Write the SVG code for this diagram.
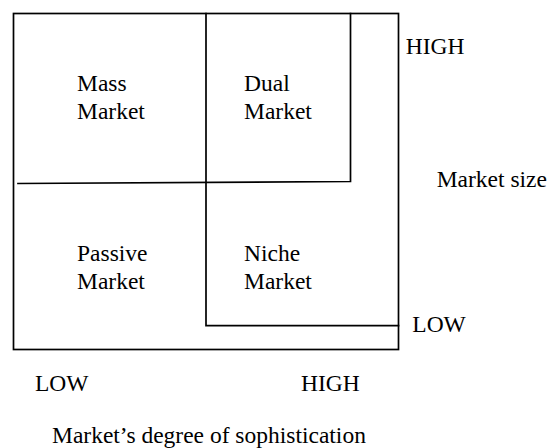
<svg xmlns="http://www.w3.org/2000/svg" width="549" height="448" viewBox="0 0 549 448">
<style>
.ln{fill:none;stroke:#000;stroke-width:1.7;stroke-linecap:square}
.t{font-family:'Liberation Serif','Times New Roman','DejaVu Serif',serif;font-size:23.5px;fill:#000}
</style>
<rect width="549" height="448" fill="#fff"/>
<g id="connectors">
<rect class="ln" x="13.5" y="13.5" width="385" height="336"/>
<polyline class="ln" points="206,13.5 206,325.7 398.5,325.7"/>
<polyline class="ln" points="350.5,13.5 350.5,181.5 18,183.5"/>
</g>
<g class="t" font-family="Liberation Serif, Times New Roman, serif" font-size="23.5">
<g id="mass"><text x="77" y="90.7">Mass</text><text x="77" y="119.3">Market</text></g>
<g id="dual"><text x="244" y="90.7">Dual</text><text x="244" y="119.3">Market</text></g>
<g id="passive"><text x="77" y="260.7">Passive</text><text x="77" y="289.3">Market</text></g>
<g id="niche"><text x="244" y="260.7">Niche</text><text x="244" y="289.3">Market</text></g>
<g id="axis-y">
<text x="405.7" y="54">HIGH</text>
<text x="436.7" y="186.5">Market size</text>
<text x="412.3" y="331.7">LOW</text>
</g>
<g id="axis-x">
<text x="35" y="391">LOW</text>
<text x="301" y="391">HIGH</text>
<text x="52" y="443">Market’s degree of sophistication</text>
</g>
</g>
</svg>
